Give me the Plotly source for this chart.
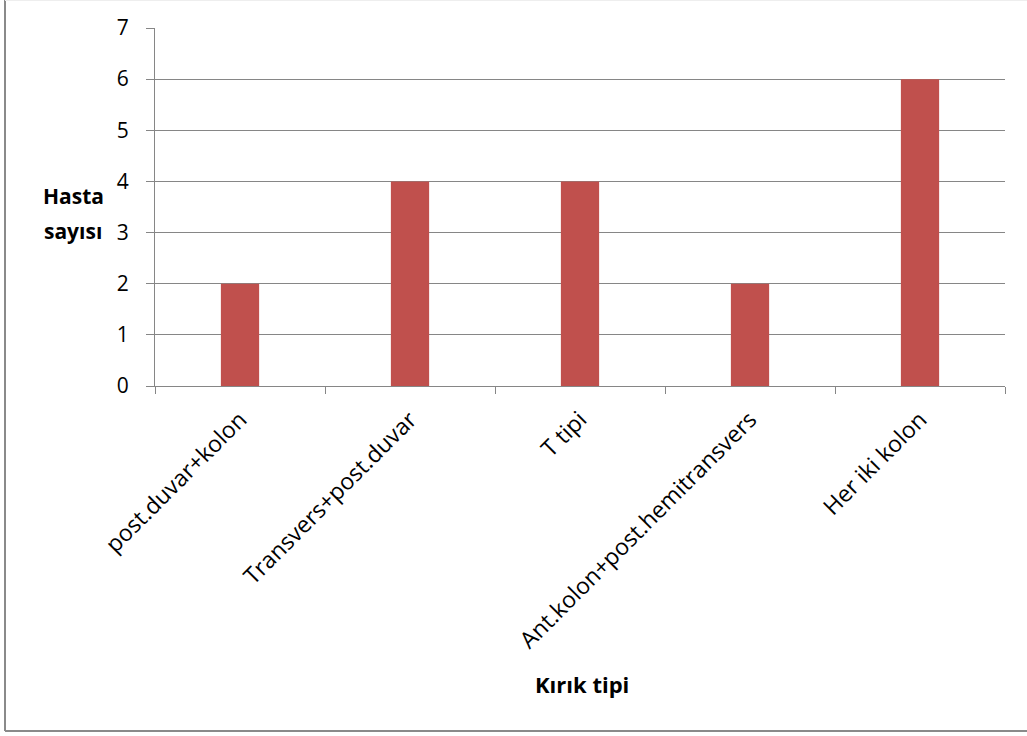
import plotly.graph_objects as go

categories = ["post.duvar+kolon", "Transvers+post.duvar", "T tipi",
              "Ant.kolon+post.hemitransvers", "Her iki kolon"]
values = [2, 4, 4, 2, 6]
y_ticks = [0, 1, 2, 3, 4, 5, 6, 7]

W, H = 1027, 736
L, R, T, B = 155, 22, 28, 350
pw, ph = W - L - R, H - T - B

def px(x):
    return (x - L) / pw

def py(y):
    return (H - B - y) / ph

FONT = "Open Sans"
GRID = "#868686"

fig = go.Figure(go.Bar(
    x=categories, y=values, marker=dict(color="#C0504D", line=dict(width=0)),
    width=0.225,
))

fig.update_layout(
    width=W, height=H,
    margin=dict(l=L, r=R, t=T, b=B),
    paper_bgcolor="white", plot_bgcolor="white",
    showlegend=False,
    font=dict(family=FONT, size=21, color="black"),
)

fig.update_xaxes(
    type="category", tickangle=-45, tickson="boundaries",
    ticks="outside", ticklen=7, tickcolor=GRID, tickwidth=1,
    showline=True, linecolor=GRID, linewidth=1,
    showgrid=False, tickfont=dict(family=FONT, size=23),
    range=[-0.5, len(categories) - 0.5],
    ticklabelstandoff=10,
)
fig.update_yaxes(
    range=[0, 7], tickvals=y_ticks, ticktext=[str(v) for v in y_ticks],
    ticks="outside", ticklen=8, tickcolor=GRID, tickwidth=1,
    showline=True, linecolor=GRID, linewidth=1,
    showgrid=True, gridcolor=GRID, gridwidth=1,
    zeroline=False, tickfont=dict(family=FONT, size=21),
    ticklabelstandoff=13,
)

fig.add_annotation(
    text="<b>Hasta</b>", x=px(73), y=py(196), xref="paper", yref="paper",
    xanchor="center", yanchor="middle",
    showarrow=False, font=dict(family=FONT, size=21),
)
fig.add_annotation(
    text="<b>sayısı</b>", x=px(73), y=py(231), xref="paper", yref="paper",
    xanchor="center", yanchor="middle",
    showarrow=False, font=dict(family=FONT, size=21),
)
fig.add_annotation(
    text="<b>Kırık tipi</b>", x=px(582), y=py(684), xref="paper", yref="paper",
    xanchor="center", yanchor="middle",
    showarrow=False, font=dict(family=FONT, size=22),
)

# chart border (outer frame)
fig.add_shape(type="line", xref="paper", yref="paper",
              x0=px(5), x1=px(5), y0=py(731), y1=py(0),
              line=dict(color="#8a8a8a", width=2))
fig.add_shape(type="line", xref="paper", yref="paper",
              x0=px(5), x1=px(1030), y0=py(731), y1=py(731),
              line=dict(color="#8a8a8a", width=2))
fig.add_shape(type="line", xref="paper", yref="paper",
              x0=px(5), x1=px(1030), y0=py(0.5), y1=py(0.5),
              line=dict(color="#eeeeee", width=1))

fig.write_html("out.html")
